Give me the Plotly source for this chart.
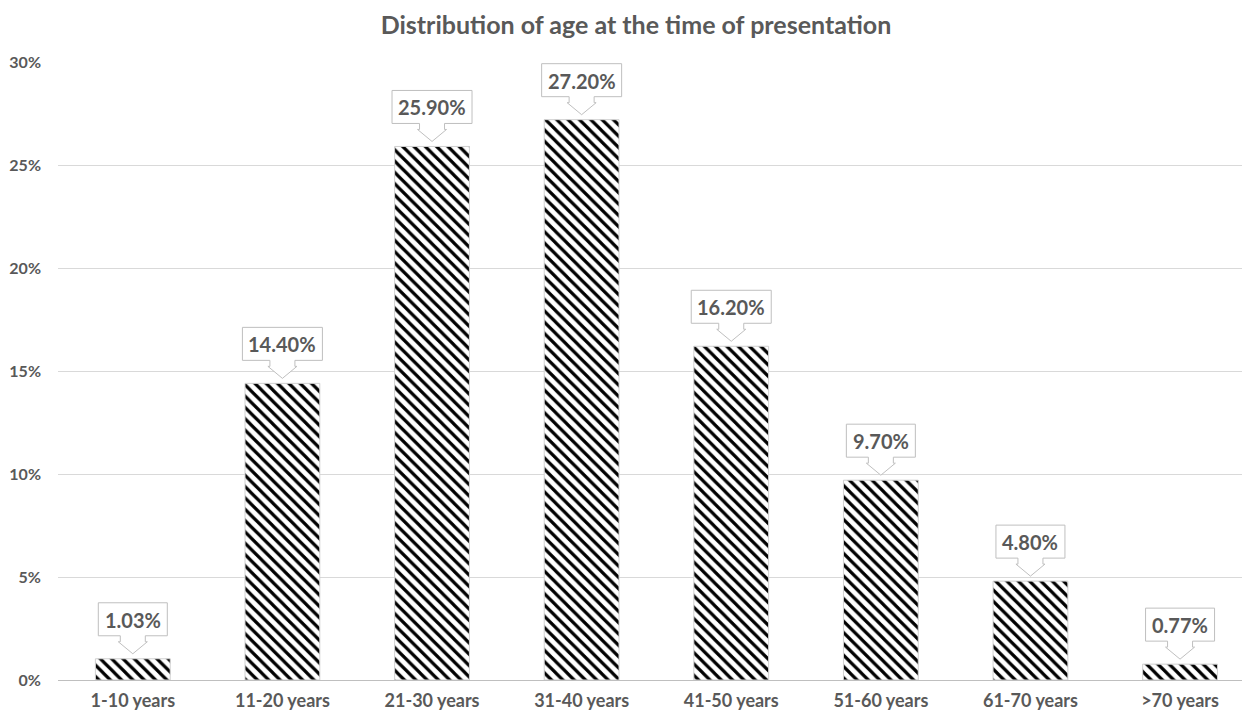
import plotly.graph_objects as go

categories = ["1-10 years", "11-20 years", "21-30 years", "31-40 years",
              "41-50 years", "51-60 years", "61-70 years", ">70 years"]
values = [0.0103, 0.144, 0.259, 0.272, 0.162, 0.097, 0.048, 0.0077]
labels = ["1.03%", "14.40%", "25.90%", "27.20%", "16.20%", "9.70%", "4.80%", "0.77%"]

TXT = "#595959"
FONT = "Lato"

fig = go.Figure()
fig.add_trace(go.Bar(
    x=list(range(len(categories))), y=values, width=0.5,
    marker=dict(color="white",
                line=dict(color="#d0d0d0", width=1),
                pattern=dict(shape="\\", fgcolor="black", bgcolor="white",
                             size=8, solidity=0.4, fillmode="replace")),
    hoverinfo="skip",
))

shapes = []
annotations = []
for i, (v, lab) in enumerate(zip(values, labels)):
    w = 11 * len(lab) + 14
    h = w / 2
    path = (f"M 0,5 L -14.5,17 L -12.5,17 L -12.5,23 L {-h},23 L {-h},56 "
            f"L {h},56 L {h},23 L 12.5,23 L 12.5,17 L 14.5,17 Z")
    shapes.append(dict(type="path", xref="x", yref="y", xsizemode="pixel",
                       ysizemode="pixel", xanchor=i, yanchor=v, path=path,
                       fillcolor="white", line=dict(color="#bfbfbf", width=1),
                       layer="above"))
    annotations.append(dict(x=i, y=v, xref="x", yref="y", text=lab,
                            showarrow=False, yshift=39, yanchor="middle",
                            font=dict(family=FONT, size=20, color=TXT,
                                      weight="bold")))

fig.update_layout(
    width=1242, height=710,
    margin=dict(l=58, r=0, t=62, b=30),
    paper_bgcolor="white", plot_bgcolor="white",
    showlegend=False,
    title=dict(text="<b>Distribution of age at the time of presentation</b>",
               x=636 / 1242, xref="container", xanchor="center",
               y=1 - 25 / 710, yref="container", yanchor="middle",
               font=dict(family=FONT, size=25, color=TXT)),
    xaxis=dict(range=[-0.5, 7.414], tickmode="array",
               tickvals=list(range(len(categories))), ticktext=categories,
               showgrid=False, zeroline=False, showline=False,
               tickfont=dict(family=FONT, size=18, color=TXT, weight="bold"),
               ticklabelstandoff=8),
    yaxis=dict(range=[0, 0.30], dtick=0.05, tickformat=".0%",
               showgrid=True, gridcolor="#d9d9d9", gridwidth=1,
               zeroline=True, zerolinecolor="#bfbfbf", zerolinewidth=1,
               showline=False,
               tickfont=dict(family=FONT, size=16, color=TXT, weight="bold"),
               ticklabelstandoff=16),
    shapes=shapes, annotations=annotations,
)

fig.write_html("out.html")
